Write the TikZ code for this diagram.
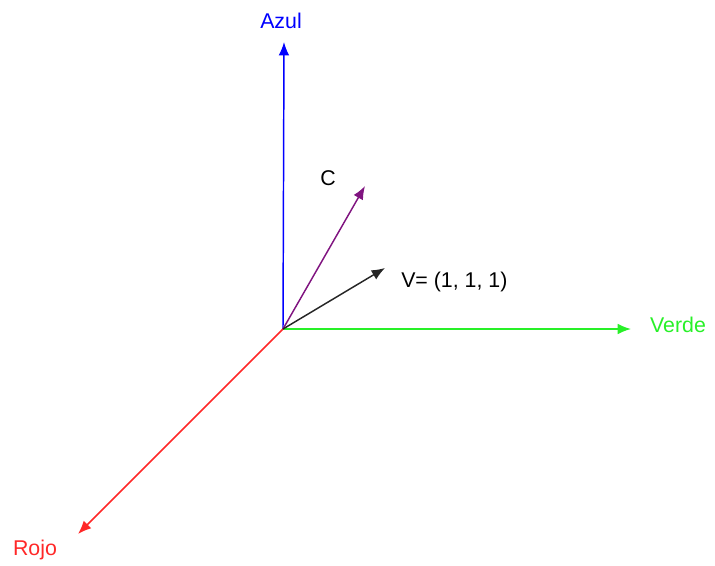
\documentclass[tikz,border=0pt]{standalone}
\usepackage{fontspec}
\setmainfont{Liberation Sans}
\usetikzlibrary{arrows.meta}
\definecolor{azul}{RGB}{0,0,255}
\definecolor{verde}{RGB}{40,240,40}
\definecolor{rojo}{RGB}{255,40,40}
\definecolor{morado}{RGB}{128,20,128}
\tikzset{
  vec/.style={line width=1.1pt,-{Latex[length=10pt,width=8pt]}},
  lbl/.style={inner sep=0pt,font=\fontsize{16}{19}\selectfont}
}
\begin{document}
\begin{tikzpicture}[x=0.75pt,y=-0.75pt]
\useasboundingbox (0,0) rectangle (715,565);
\coordinate (O) at (283,329);
\coordinate (Ba) at (284,42);
\coordinate (Ga) at (631,329);
\coordinate (Ra) at (78,534);
\coordinate (Ca) at (365,186);
\coordinate (Va) at (385,268);
\node[lbl,text=azul] (azul) at (281,21) {Azul};
\node[lbl,text=verde] (verde) at (678,325) {Verde};
\node[lbl,text=rojo] (rojo) at (35,550) {Rojo};
\node[lbl] (c) at (328,178) {C};
\node[lbl,anchor=west] (v) at (401,282) {V= (1, 1, 1)};
\draw[vec,azul] (O) -- (Ba);
\draw[vec,verde] (O) -- (Ga);
\draw[vec,rojo] (O) -- (Ra);
\draw[vec,morado] (O) -- (Ca);
\draw[vec,black!85] (O) -- (Va);
\end{tikzpicture}
\end{document}
